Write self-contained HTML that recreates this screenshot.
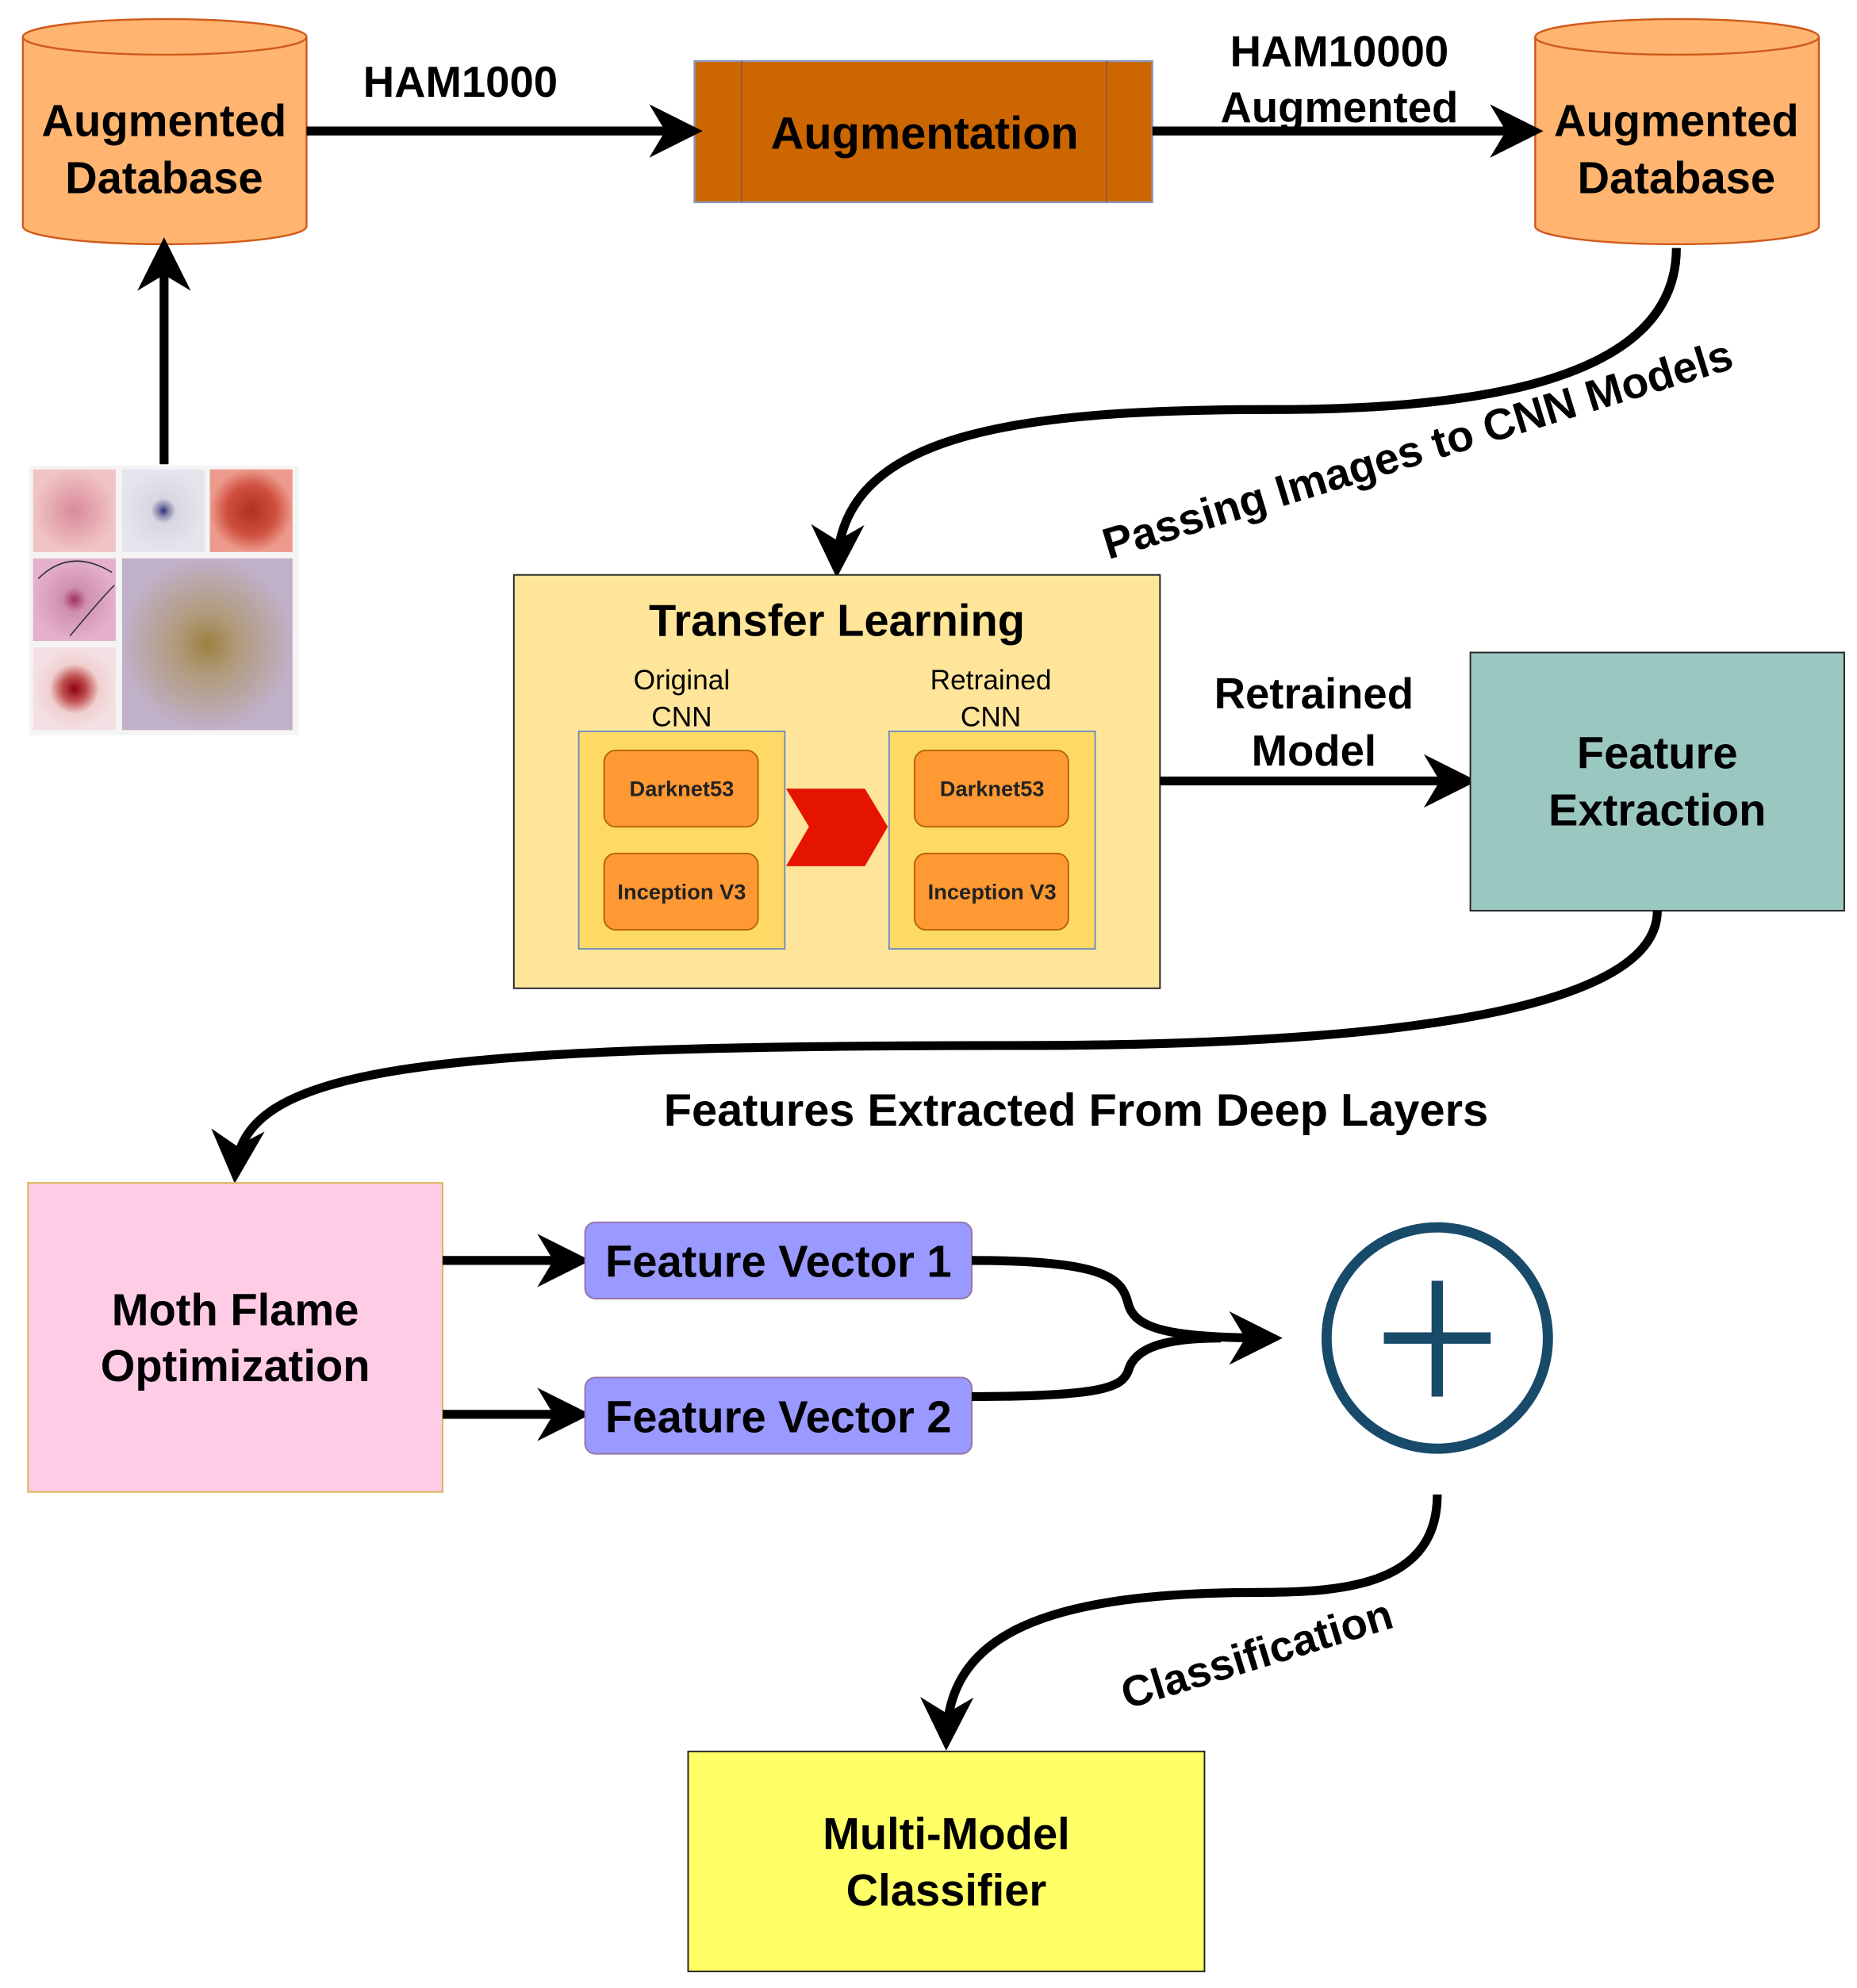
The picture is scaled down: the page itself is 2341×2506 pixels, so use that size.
<!DOCTYPE html>
<html><head><meta charset="utf-8"><style>html,body{margin:0;padding:0;background:#fff}svg{display:block}</style></head>
<body>
<svg width="2341" height="2506" viewBox="0 0 1460 1563" preserveAspectRatio="none" xmlns="http://www.w3.org/2000/svg" font-family="Liberation Sans, sans-serif">
<defs>
<marker id="ah" viewBox="0 0 20 20" refX="16" refY="10" markerWidth="6" markerHeight="6" markerUnits="strokeWidth" orient="auto">
<path d="M0,0 L20,10 L0,20 L6,10 Z" fill="#000"/>
</marker>
<radialGradient id="g1"><stop offset="0" stop-color="#d98a9a"/><stop offset="1" stop-color="#f0c4c4"/></radialGradient>
<radialGradient id="g2"><stop offset="0" stop-color="#2a2a7a"/><stop offset="0.12" stop-color="#8080a8"/><stop offset="0.3" stop-color="#d8d6e0"/><stop offset="1" stop-color="#e6e4ec"/></radialGradient>
<radialGradient id="g3"><stop offset="0" stop-color="#b03020"/><stop offset="0.6" stop-color="#d05040"/><stop offset="1" stop-color="#ec9a8c"/></radialGradient>
<radialGradient id="g4"><stop offset="0" stop-color="#a03060"/><stop offset="0.3" stop-color="#d090b0"/><stop offset="1" stop-color="#e4b0cc"/></radialGradient>
<radialGradient id="g5"><stop offset="0" stop-color="#9c8040"/><stop offset="0.35" stop-color="#b09a7a"/><stop offset="1" stop-color="#c0b0c8"/></radialGradient>
<radialGradient id="g6"><stop offset="0" stop-color="#900010"/><stop offset="0.3" stop-color="#c05050"/><stop offset="0.6" stop-color="#f0d0d0"/><stop offset="1" stop-color="#f4e0e4"/></radialGradient>
</defs>

<g stroke="#d05a1a" stroke-width="1.5" fill="#ffb570">
<path d="M18,29 L18,178 A111.5,14 0 0 0 241,178 L241,29"/>
<ellipse cx="129.5" cy="29" rx="111.5" ry="14"/>
</g>
<text x="129" y="107" font-size="35" font-weight="bold" text-anchor="middle">Augmented</text>
<text x="129" y="152" font-size="35" font-weight="bold" text-anchor="middle">Database</text>

<g stroke="#d05a1a" stroke-width="1.5" fill="#ffb570">
<path d="M1207,29 L1207,178 A111.5,14 0 0 0 1430,178 L1430,29"/>
<ellipse cx="1318.5" cy="29" rx="111.5" ry="14"/>
</g>
<text x="1318" y="107" font-size="35" font-weight="bold" text-anchor="middle">Augmented</text>
<text x="1318" y="152" font-size="35" font-weight="bold" text-anchor="middle">Database</text>

<rect x="546" y="48" width="360" height="111" fill="#cc6600" stroke="#8899bb" stroke-width="1.5"/>
<line x1="583" y1="48" x2="583" y2="159" stroke="#8a5a40" stroke-width="1"/>
<line x1="870" y1="48" x2="870" y2="159" stroke="#8a5a40" stroke-width="1"/>
<text x="727" y="117" font-size="36" font-weight="bold" text-anchor="middle">Augmentation</text>

<line x1="241" y1="103" x2="544" y2="103" stroke="#000" stroke-width="7" marker-end="url(#ah)"/>
<text x="362" y="76" font-size="34" font-weight="bold" text-anchor="middle">HAM1000</text>
<line x1="906" y1="103" x2="1205" y2="103" stroke="#000" stroke-width="7" marker-end="url(#ah)"/>
<text x="1053" y="52" font-size="34" font-weight="bold" text-anchor="middle">HAM10000</text>
<text x="1053" y="96" font-size="34" font-weight="bold" text-anchor="middle">Augmented</text>

<line x1="129" y1="365" x2="129" y2="195" stroke="#000" stroke-width="7" marker-end="url(#ah)"/>

<rect x="23" y="366" width="212" height="212" fill="#f4f4f4"/>
<rect x="26" y="369" width="65" height="65" fill="url(#g1)"/>
<rect x="96" y="369" width="65" height="65" fill="url(#g2)"/>
<rect x="165" y="369" width="65" height="65" fill="url(#g3)"/>
<rect x="26" y="439" width="65" height="65" fill="url(#g4)"/>
<path d="M30,455 Q55,430 88,450 M55,500 Q80,470 90,460" stroke="#333" stroke-width="1" fill="none"/>
<rect x="96" y="439" width="134" height="135" fill="url(#g5)"/>
<rect x="26" y="509" width="65" height="65" fill="url(#g6)"/>

<path d="M1318,195 C1318,300 1160,322 1000,322 C800,322 660,340 658,446" stroke="#000" stroke-width="7" fill="none" marker-end="url(#ah)"/>
<text x="1115" y="365" font-size="34.5" font-weight="bold" text-anchor="middle" transform="rotate(-17 1115 355)">Passing Images to CNN Models</text>

<rect x="404" y="452" width="508" height="325" fill="#ffe599" stroke="#222" stroke-width="1.2"/>
<text x="658" y="500" font-size="35" font-weight="bold" text-anchor="middle">Transfer Learning</text>
<text x="536" y="542" font-size="22" text-anchor="middle">Original</text>
<text x="536" y="571" font-size="22" text-anchor="middle">CNN</text>
<text x="779" y="542" font-size="22" text-anchor="middle">Retrained</text>
<text x="779" y="571" font-size="22" text-anchor="middle">CNN</text>
<rect x="455" y="575" width="162" height="171" fill="#ffd966" stroke="#6c8ebf" stroke-width="1.2"/>
<rect x="699" y="575" width="162" height="171" fill="#ffd966" stroke="#6c8ebf" stroke-width="1.2"/>
<g fill="#ff9933" stroke="#b46504" stroke-width="1.2">
<rect x="475" y="590" width="121" height="60" rx="9"/>
<rect x="475" y="671" width="121" height="60" rx="9"/>
<rect x="719" y="590" width="121" height="60" rx="9"/>
<rect x="719" y="671" width="121" height="60" rx="9"/>
</g>
<g font-size="17" font-weight="bold" text-anchor="middle" fill="#222">
<text x="536" y="626">Darknet53</text>
<text x="536" y="707">Inception V3</text>
<text x="780" y="626">Darknet53</text>
<text x="780" y="707">Inception V3</text>
</g>
<polygon points="618,620 680,620 698,650 680,681 618,681 636,650" fill="#e51400"/>

<line x1="912" y1="614" x2="1153" y2="614" stroke="#000" stroke-width="7" marker-end="url(#ah)"/>
<text x="1033" y="557" font-size="34" font-weight="bold" text-anchor="middle">Retrained</text>
<text x="1033" y="602" font-size="34" font-weight="bold" text-anchor="middle">Model</text>

<rect x="1156" y="513" width="294" height="203" fill="#9ac7bf" stroke="#222" stroke-width="1.2"/>
<text x="1303" y="604" font-size="35" font-weight="bold" text-anchor="middle">Feature</text>
<text x="1303" y="649" font-size="35" font-weight="bold" text-anchor="middle">Extraction</text>

<path d="M1303,716 C1303,810 1000,822 800,822 C320,822 190,840 185,922" stroke="#000" stroke-width="7" fill="none" marker-end="url(#ah)"/>
<text x="846" y="885" font-size="36" font-weight="bold" text-anchor="middle">Features Extracted From Deep Layers</text>

<rect x="22" y="930" width="326" height="243" fill="#ffcce6" stroke="#d6b656" stroke-width="1.2"/>
<text x="185" y="1042" font-size="35" font-weight="bold" text-anchor="middle">Moth Flame</text>
<text x="185" y="1086" font-size="35" font-weight="bold" text-anchor="middle">Optimization</text>

<line x1="348" y1="991" x2="456" y2="991" stroke="#000" stroke-width="7" marker-end="url(#ah)"/>
<line x1="348" y1="1112" x2="456" y2="1112" stroke="#000" stroke-width="7" marker-end="url(#ah)"/>

<rect x="460" y="961" width="304" height="60" rx="8" fill="#9999ff" stroke="#9673a6" stroke-width="1.2"/>
<rect x="460" y="1083" width="304" height="60" rx="8" fill="#9999ff" stroke="#9673a6" stroke-width="1.2"/>
<text x="612" y="1004" font-size="35" font-weight="bold" text-anchor="middle">Feature Vector 1</text>
<text x="612" y="1126" font-size="35" font-weight="bold" text-anchor="middle">Feature Vector 2</text>

<path d="M764,991 C870,991 882,1005 887,1025 C892,1045 920,1052 1000,1052" stroke="#000" stroke-width="7" fill="none" marker-end="url(#ah)"/>
<path d="M764,1098 C870,1098 882,1090 887,1078 C892,1058 920,1052 960,1052" stroke="#000" stroke-width="7" fill="none"/>

<circle cx="1130" cy="1052" r="87" fill="none" stroke="#184a6a" stroke-width="8"/>
<line x1="1088" y1="1052" x2="1172" y2="1052" stroke="#184a6a" stroke-width="9"/>
<line x1="1130" y1="1007" x2="1130" y2="1098" stroke="#184a6a" stroke-width="9"/>

<path d="M1130,1175 C1130,1245 1060,1252 990,1252 C810,1252 745,1290 744,1368" stroke="#000" stroke-width="7" fill="none" marker-end="url(#ah)"/>
<text x="988" y="1312" font-size="34" font-weight="bold" text-anchor="middle" transform="rotate(-17 988 1300)">Classification</text>

<rect x="541" y="1377" width="406" height="173" fill="#ffff66" stroke="#222" stroke-width="1.2"/>
<text x="744" y="1454" font-size="35" font-weight="bold" text-anchor="middle">Multi-Model</text>
<text x="744" y="1498" font-size="35" font-weight="bold" text-anchor="middle">Classifier</text>
</svg>
</body></html>
